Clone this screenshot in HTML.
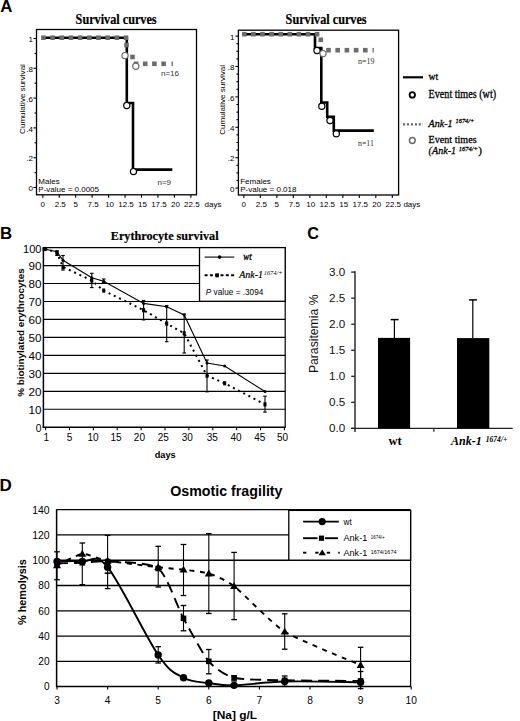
<!DOCTYPE html>
<html><head><meta charset="utf-8"><style>
html,body{margin:0;padding:0;background:#fff;overflow:hidden;}
svg{display:block;}
</style></head><body>
<svg width="520" height="721" viewBox="0 0 520 721">
<rect width="520" height="721" fill="#fff"/>
<text x="0.3" y="11.8" font-size="16.8" font-family='"Liberation Sans", sans-serif' text-anchor="start" font-weight="bold">A</text>
<text x="0" y="239.4" font-size="16.8" font-family='"Liberation Sans", sans-serif' text-anchor="start" font-weight="bold">B</text>
<text x="307.2" y="239.2" font-size="16.2" font-family='"Liberation Sans", sans-serif' text-anchor="start" font-weight="bold">C</text>
<text x="-0.6" y="491.2" font-size="17" font-family='"Liberation Sans", sans-serif' text-anchor="start" font-weight="bold">D</text>
<rect x="36.5" y="29.5" width="160.0" height="165.3" fill="none" stroke="#000" stroke-width="1.3"/>
<line x1="33.5" y1="187.5" x2="36.5" y2="187.5" stroke="#000" stroke-width="1.1"/>
<line x1="34.5" y1="172.6" x2="36.5" y2="172.6" stroke="#000" stroke-width="1.1"/>
<line x1="33.5" y1="157.7" x2="36.5" y2="157.7" stroke="#000" stroke-width="1.1"/>
<line x1="34.5" y1="142.79999999999998" x2="36.5" y2="142.79999999999998" stroke="#000" stroke-width="1.1"/>
<line x1="33.5" y1="127.9" x2="36.5" y2="127.9" stroke="#000" stroke-width="1.1"/>
<line x1="34.5" y1="113.0" x2="36.5" y2="113.0" stroke="#000" stroke-width="1.1"/>
<line x1="33.5" y1="98.09999999999998" x2="36.5" y2="98.09999999999998" stroke="#000" stroke-width="1.1"/>
<line x1="34.5" y1="83.19999999999999" x2="36.5" y2="83.19999999999999" stroke="#000" stroke-width="1.1"/>
<line x1="33.5" y1="68.3" x2="36.5" y2="68.3" stroke="#000" stroke-width="1.1"/>
<line x1="34.5" y1="53.400000000000006" x2="36.5" y2="53.400000000000006" stroke="#000" stroke-width="1.1"/>
<line x1="33.5" y1="38.5" x2="36.5" y2="38.5" stroke="#000" stroke-width="1.1"/>
<text x="33.0" y="42.1" font-size="8" font-family='"Liberation Sans", sans-serif' text-anchor="end">1</text>
<text x="33.0" y="71.89999999999999" font-size="8" font-family='"Liberation Sans", sans-serif' text-anchor="end">.8</text>
<text x="33.0" y="101.7" font-size="8" font-family='"Liberation Sans", sans-serif' text-anchor="end">.6</text>
<text x="33.0" y="131.5" font-size="8" font-family='"Liberation Sans", sans-serif' text-anchor="end">.4</text>
<text x="33.0" y="161.29999999999998" font-size="8" font-family='"Liberation Sans", sans-serif' text-anchor="end">.2</text>
<text x="33.0" y="191.1" font-size="8" font-family='"Liberation Sans", sans-serif' text-anchor="end">0</text>
<line x1="42.8" y1="194.8" x2="42.8" y2="197.8" stroke="#000" stroke-width="1.1"/>
<text x="42.8" y="206.5" font-size="8" font-family='"Liberation Sans", sans-serif' text-anchor="middle">0</text>
<line x1="59.25" y1="194.8" x2="59.25" y2="197.8" stroke="#000" stroke-width="1.1"/>
<text x="60.25" y="206.5" font-size="8" font-family='"Liberation Sans", sans-serif' text-anchor="middle">2.5</text>
<line x1="75.69999999999999" y1="194.8" x2="75.69999999999999" y2="197.8" stroke="#000" stroke-width="1.1"/>
<text x="75.69999999999999" y="206.5" font-size="8" font-family='"Liberation Sans", sans-serif' text-anchor="middle">5</text>
<line x1="92.15" y1="194.8" x2="92.15" y2="197.8" stroke="#000" stroke-width="1.1"/>
<text x="93.15" y="206.5" font-size="8" font-family='"Liberation Sans", sans-serif' text-anchor="middle">7.5</text>
<line x1="108.6" y1="194.8" x2="108.6" y2="197.8" stroke="#000" stroke-width="1.1"/>
<text x="109.6" y="206.5" font-size="8" font-family='"Liberation Sans", sans-serif' text-anchor="middle">10</text>
<line x1="125.05" y1="194.8" x2="125.05" y2="197.8" stroke="#000" stroke-width="1.1"/>
<text x="126.05" y="206.5" font-size="8" font-family='"Liberation Sans", sans-serif' text-anchor="middle">12.5</text>
<line x1="141.5" y1="194.8" x2="141.5" y2="197.8" stroke="#000" stroke-width="1.1"/>
<text x="142.5" y="206.5" font-size="8" font-family='"Liberation Sans", sans-serif' text-anchor="middle">15</text>
<line x1="157.95" y1="194.8" x2="157.95" y2="197.8" stroke="#000" stroke-width="1.1"/>
<text x="158.95" y="206.5" font-size="8" font-family='"Liberation Sans", sans-serif' text-anchor="middle">17.5</text>
<line x1="174.39999999999998" y1="194.8" x2="174.39999999999998" y2="197.8" stroke="#000" stroke-width="1.1"/>
<text x="175.39999999999998" y="206.5" font-size="8" font-family='"Liberation Sans", sans-serif' text-anchor="middle">20</text>
<line x1="190.85000000000002" y1="194.8" x2="190.85000000000002" y2="197.8" stroke="#000" stroke-width="1.1"/>
<text x="191.85000000000002" y="206.5" font-size="8" font-family='"Liberation Sans", sans-serif' text-anchor="middle">22.5</text>
<text x="204.5" y="206.5" font-size="8" font-family='"Liberation Sans", sans-serif' text-anchor="start">days</text>
<text x="25.0" y="99" font-size="8" font-family='"Liberation Sans", sans-serif' text-anchor="middle" textLength="69.8" lengthAdjust="spacingAndGlyphs" transform="rotate(-90 25.0 99)">Cumulative survival</text>
<text x="75.6" y="24.2" font-size="13.8" font-family='"Liberation Serif", serif' text-anchor="start" stroke="#000" stroke-width="0.2" font-weight="bold" textLength="81" lengthAdjust="spacingAndGlyphs">Survival curves</text>
<text x="38.3" y="183.6" font-size="8" font-family='"Liberation Sans", sans-serif' text-anchor="start">Males</text>
<text x="38.3" y="192.3" font-size="8" font-family='"Liberation Sans", sans-serif' text-anchor="start">P-value = 0.0005</text>
<rect x="238.4" y="30.2" width="160.20000000000002" height="164.8" fill="none" stroke="#000" stroke-width="1.3"/>
<line x1="235.4" y1="188.1" x2="238.4" y2="188.1" stroke="#000" stroke-width="1.1"/>
<line x1="236.4" y1="180.5" x2="238.4" y2="180.5" stroke="#000" stroke-width="1.1"/>
<line x1="236.4" y1="172.9" x2="238.4" y2="172.9" stroke="#000" stroke-width="1.1"/>
<line x1="236.4" y1="165.29999999999998" x2="238.4" y2="165.29999999999998" stroke="#000" stroke-width="1.1"/>
<line x1="235.4" y1="157.7" x2="238.4" y2="157.7" stroke="#000" stroke-width="1.1"/>
<line x1="236.4" y1="150.1" x2="238.4" y2="150.1" stroke="#000" stroke-width="1.1"/>
<line x1="236.4" y1="142.5" x2="238.4" y2="142.5" stroke="#000" stroke-width="1.1"/>
<line x1="236.4" y1="134.89999999999998" x2="238.4" y2="134.89999999999998" stroke="#000" stroke-width="1.1"/>
<line x1="235.4" y1="127.29999999999998" x2="238.4" y2="127.29999999999998" stroke="#000" stroke-width="1.1"/>
<line x1="236.4" y1="119.69999999999999" x2="238.4" y2="119.69999999999999" stroke="#000" stroke-width="1.1"/>
<line x1="236.4" y1="112.1" x2="238.4" y2="112.1" stroke="#000" stroke-width="1.1"/>
<line x1="236.4" y1="104.49999999999999" x2="238.4" y2="104.49999999999999" stroke="#000" stroke-width="1.1"/>
<line x1="235.4" y1="96.89999999999998" x2="238.4" y2="96.89999999999998" stroke="#000" stroke-width="1.1"/>
<line x1="236.4" y1="89.3" x2="238.4" y2="89.3" stroke="#000" stroke-width="1.1"/>
<line x1="236.4" y1="81.69999999999999" x2="238.4" y2="81.69999999999999" stroke="#000" stroke-width="1.1"/>
<line x1="236.4" y1="74.1" x2="238.4" y2="74.1" stroke="#000" stroke-width="1.1"/>
<line x1="235.4" y1="66.49999999999999" x2="238.4" y2="66.49999999999999" stroke="#000" stroke-width="1.1"/>
<line x1="236.4" y1="58.89999999999998" x2="238.4" y2="58.89999999999998" stroke="#000" stroke-width="1.1"/>
<line x1="236.4" y1="51.29999999999998" x2="238.4" y2="51.29999999999998" stroke="#000" stroke-width="1.1"/>
<line x1="236.4" y1="43.69999999999999" x2="238.4" y2="43.69999999999999" stroke="#000" stroke-width="1.1"/>
<line x1="235.4" y1="36.099999999999994" x2="238.4" y2="36.099999999999994" stroke="#000" stroke-width="1.1"/>
<text x="234.4" y="39.699999999999996" font-size="8" font-family='"Liberation Sans", sans-serif' text-anchor="end">1</text>
<text x="234.4" y="70.09999999999998" font-size="8" font-family='"Liberation Sans", sans-serif' text-anchor="end">.8</text>
<text x="234.4" y="100.49999999999999" font-size="8" font-family='"Liberation Sans", sans-serif' text-anchor="end">.6</text>
<text x="234.4" y="130.89999999999998" font-size="8" font-family='"Liberation Sans", sans-serif' text-anchor="end">.4</text>
<text x="234.4" y="161.29999999999998" font-size="8" font-family='"Liberation Sans", sans-serif' text-anchor="end">.2</text>
<text x="234.4" y="191.7" font-size="8" font-family='"Liberation Sans", sans-serif' text-anchor="end">0</text>
<line x1="243.8" y1="195.0" x2="243.8" y2="198.0" stroke="#000" stroke-width="1.1"/>
<text x="243.8" y="206.5" font-size="8" font-family='"Liberation Sans", sans-serif' text-anchor="middle">0</text>
<line x1="260.3" y1="195.0" x2="260.3" y2="198.0" stroke="#000" stroke-width="1.1"/>
<text x="261.3" y="206.5" font-size="8" font-family='"Liberation Sans", sans-serif' text-anchor="middle">2.5</text>
<line x1="276.8" y1="195.0" x2="276.8" y2="198.0" stroke="#000" stroke-width="1.1"/>
<text x="276.8" y="206.5" font-size="8" font-family='"Liberation Sans", sans-serif' text-anchor="middle">5</text>
<line x1="293.3" y1="195.0" x2="293.3" y2="198.0" stroke="#000" stroke-width="1.1"/>
<text x="294.3" y="206.5" font-size="8" font-family='"Liberation Sans", sans-serif' text-anchor="middle">7.5</text>
<line x1="309.8" y1="195.0" x2="309.8" y2="198.0" stroke="#000" stroke-width="1.1"/>
<text x="310.8" y="206.5" font-size="8" font-family='"Liberation Sans", sans-serif' text-anchor="middle">10</text>
<line x1="326.3" y1="195.0" x2="326.3" y2="198.0" stroke="#000" stroke-width="1.1"/>
<text x="327.3" y="206.5" font-size="8" font-family='"Liberation Sans", sans-serif' text-anchor="middle">12.5</text>
<line x1="342.8" y1="195.0" x2="342.8" y2="198.0" stroke="#000" stroke-width="1.1"/>
<text x="343.8" y="206.5" font-size="8" font-family='"Liberation Sans", sans-serif' text-anchor="middle">15</text>
<line x1="359.3" y1="195.0" x2="359.3" y2="198.0" stroke="#000" stroke-width="1.1"/>
<text x="360.3" y="206.5" font-size="8" font-family='"Liberation Sans", sans-serif' text-anchor="middle">17.5</text>
<line x1="375.8" y1="195.0" x2="375.8" y2="198.0" stroke="#000" stroke-width="1.1"/>
<text x="376.8" y="206.5" font-size="8" font-family='"Liberation Sans", sans-serif' text-anchor="middle">20</text>
<line x1="392.3" y1="195.0" x2="392.3" y2="198.0" stroke="#000" stroke-width="1.1"/>
<text x="393.3" y="206.5" font-size="8" font-family='"Liberation Sans", sans-serif' text-anchor="middle">22.5</text>
<text x="403.4" y="206.5" font-size="8" font-family='"Liberation Sans", sans-serif' text-anchor="start">days</text>
<text x="224.9" y="99.9" font-size="8" font-family='"Liberation Sans", sans-serif' text-anchor="middle" textLength="69.8" lengthAdjust="spacingAndGlyphs" transform="rotate(-90 224.9 99.9)">Cumulative survival</text>
<text x="285.6" y="24.2" font-size="13.8" font-family='"Liberation Serif", serif' text-anchor="start" stroke="#000" stroke-width="0.2" font-weight="bold" textLength="81" lengthAdjust="spacingAndGlyphs">Survival curves</text>
<text x="240.20000000000002" y="183.6" font-size="8" font-family='"Liberation Sans", sans-serif' text-anchor="start">Females</text>
<text x="240.20000000000002" y="192.3" font-size="8" font-family='"Liberation Sans", sans-serif' text-anchor="start">P-value = 0.018</text>
<path d="M42 37.7 H126.8 V103 H133 V169.6 H172.3" stroke="#000" stroke-width="2.6" fill="none"/>
<rect x="41.10" y="35.40" width="4.6" height="4.6" fill="#6c6c6c"/>
<rect x="50.28" y="35.40" width="4.6" height="4.6" fill="#6c6c6c"/>
<rect x="59.46" y="35.40" width="4.6" height="4.6" fill="#6c6c6c"/>
<rect x="68.64" y="35.40" width="4.6" height="4.6" fill="#6c6c6c"/>
<rect x="77.82" y="35.40" width="4.6" height="4.6" fill="#6c6c6c"/>
<rect x="87.00" y="35.40" width="4.6" height="4.6" fill="#6c6c6c"/>
<rect x="96.18" y="35.40" width="4.6" height="4.6" fill="#6c6c6c"/>
<rect x="105.36" y="35.40" width="4.6" height="4.6" fill="#6c6c6c"/>
<rect x="114.54" y="35.40" width="4.6" height="4.6" fill="#6c6c6c"/>
<rect x="123.72" y="35.40" width="4.6" height="4.6" fill="#6c6c6c"/>
<rect x="124.2" y="42.7" width="4.6" height="4.6" fill="#6c6c6c"/>
<rect x="130.2" y="54.7" width="4.6" height="4.6" fill="#6c6c6c"/>
<rect x="133.70" y="61.50" width="4.6" height="4.6" fill="#6c6c6c"/>
<rect x="142.90" y="61.50" width="4.6" height="4.6" fill="#6c6c6c"/>
<rect x="152.10" y="61.50" width="4.6" height="4.6" fill="#6c6c6c"/>
<rect x="161.30" y="61.50" width="4.6" height="4.6" fill="#6c6c6c"/>
<rect x="171.5" y="61.5" width="1.3" height="4.6" fill="#6c6c6c"/>
<circle cx="126.8" cy="105.5" r="3.1" fill="#fff" stroke="#000" stroke-width="1.2"/>
<circle cx="133.5" cy="171.6" r="3.1" fill="#fff" stroke="#000" stroke-width="1.2"/>
<circle cx="125" cy="55.6" r="3.1" fill="#fff" stroke="#6c6c6c" stroke-width="1.2"/>
<circle cx="135.8" cy="66.3" r="3.1" fill="#fff" stroke="#6c6c6c" stroke-width="1.2"/>
<text x="161" y="76" font-size="8" font-family='"Liberation Sans", sans-serif' text-anchor="start" fill="#333">n=16</text>
<text x="157.5" y="185.2" font-size="8" font-family='"Liberation Sans", sans-serif' text-anchor="start" fill="#333">n=9</text>
<path d="M244 34.2 H315 V48 H321.3 V102.5 H327.2 V116.8 H333.8 V130.6 H373.8" stroke="#000" stroke-width="2.6" fill="none"/>
<rect x="242.00" y="31.90" width="4.6" height="4.6" fill="#6c6c6c"/>
<rect x="251.10" y="31.90" width="4.6" height="4.6" fill="#6c6c6c"/>
<rect x="260.20" y="31.90" width="4.6" height="4.6" fill="#6c6c6c"/>
<rect x="269.30" y="31.90" width="4.6" height="4.6" fill="#6c6c6c"/>
<rect x="278.40" y="31.90" width="4.6" height="4.6" fill="#6c6c6c"/>
<rect x="287.50" y="31.90" width="4.6" height="4.6" fill="#6c6c6c"/>
<rect x="296.60" y="31.90" width="4.6" height="4.6" fill="#6c6c6c"/>
<rect x="305.70" y="31.90" width="4.6" height="4.6" fill="#6c6c6c"/>
<rect x="314.80" y="31.90" width="4.6" height="4.6" fill="#6c6c6c"/>
<rect x="318.5" y="37.5" width="4.6" height="4.6" fill="#6c6c6c"/>
<rect x="326.20" y="47.90" width="4.6" height="4.6" fill="#6c6c6c"/>
<rect x="335.40" y="47.90" width="4.6" height="4.6" fill="#6c6c6c"/>
<rect x="344.60" y="47.90" width="4.6" height="4.6" fill="#6c6c6c"/>
<rect x="353.80" y="47.90" width="4.6" height="4.6" fill="#6c6c6c"/>
<rect x="363.00" y="47.90" width="4.6" height="4.6" fill="#6c6c6c"/>
<rect x="372.5" y="47.9" width="1.3" height="4.6" fill="#6c6c6c"/>
<circle cx="317" cy="50.5" r="3.1" fill="#fff" stroke="#000" stroke-width="1.2"/>
<circle cx="321.8" cy="106.3" r="3.1" fill="#fff" stroke="#000" stroke-width="1.2"/>
<circle cx="330" cy="120.5" r="3.1" fill="#fff" stroke="#000" stroke-width="1.2"/>
<circle cx="336.3" cy="133.8" r="3.1" fill="#fff" stroke="#000" stroke-width="1.2"/>
<circle cx="323" cy="53.6" r="3.1" fill="#fff" stroke="#6c6c6c" stroke-width="1.2"/>
<text x="358" y="64.4" font-size="8.6" font-family='"Liberation Serif", serif' text-anchor="start" fill="#333" textLength="16.5" lengthAdjust="spacingAndGlyphs">n=19</text>
<text x="358" y="145.6" font-size="8.6" font-family='"Liberation Serif", serif' text-anchor="start" fill="#333" textLength="15.8" lengthAdjust="spacingAndGlyphs">n=11</text>
<line x1="403" y1="77.3" x2="423" y2="77.3" stroke="#000" stroke-width="2.2"/>
<text x="428.6" y="80.4" font-size="11" font-family='"Liberation Serif", serif' text-anchor="start" stroke="#000" stroke-width="0.3" textLength="9.7" lengthAdjust="spacingAndGlyphs">wt</text>
<circle cx="412.3" cy="94.9" r="2.7" fill="#fff" stroke="#000" stroke-width="1.8"/>
<text x="428.6" y="98.4" font-size="11.6" font-family='"Liberation Serif", serif' text-anchor="start" stroke="#000" stroke-width="0.3" textLength="67.5" lengthAdjust="spacingAndGlyphs">Event times (wt)</text>
<line x1="403" y1="124.4" x2="423" y2="124.4" stroke="#6a6a6a" stroke-width="2.2" stroke-dasharray="2.1 1.85"/>
<text x="428.6" y="126.8" font-size="11" font-family='"Liberation Serif", serif' text-anchor="start" stroke="#000" stroke-width="0.3" font-style="italic" textLength="24" lengthAdjust="spacingAndGlyphs">Ank-1</text>
<text x="455.6" y="122.5" font-size="7" font-family='"Liberation Serif", serif' text-anchor="start" stroke="#000" stroke-width="0.3" font-style="italic" textLength="18.7" lengthAdjust="spacingAndGlyphs">1674/+</text>
<circle cx="412.3" cy="140.5" r="2.9" fill="#fff" stroke="#6c6c6c" stroke-width="1.5"/>
<text x="428.6" y="143.0" font-size="11.4" font-family='"Liberation Serif", serif' text-anchor="start" stroke="#000" stroke-width="0.3" textLength="48" lengthAdjust="spacingAndGlyphs">Event times</text>
<text x="428.6" y="154.3" font-size="11.2" font-family='"Liberation Serif", serif' text-anchor="start" stroke="#000" stroke-width="0.3" font-style="italic" textLength="27.5" lengthAdjust="spacingAndGlyphs">(Ank-1</text>
<text x="458.7" y="150.5" font-size="7" font-family='"Liberation Serif", serif' text-anchor="start" stroke="#000" stroke-width="0.3" font-style="italic" textLength="19.2" lengthAdjust="spacingAndGlyphs">1674/+</text>
<text x="478.3" y="154.4" font-size="11" font-family='"Liberation Serif", serif' text-anchor="start" stroke="#000" stroke-width="0.3">)</text>
<text x="110.8" y="239.5" font-size="12.6" font-family='"Liberation Serif", serif' text-anchor="start" stroke="#000" stroke-width="0.2" font-weight="bold" textLength="107.8" lengthAdjust="spacingAndGlyphs">Erythrocyte survival</text>
<line x1="43.4" y1="409.24" x2="285.2" y2="409.24" stroke="#000" stroke-width="1.2"/>
<line x1="43.4" y1="391.28" x2="285.2" y2="391.28" stroke="#000" stroke-width="1.2"/>
<line x1="43.4" y1="373.32" x2="285.2" y2="373.32" stroke="#000" stroke-width="1.2"/>
<line x1="43.4" y1="355.36" x2="285.2" y2="355.36" stroke="#000" stroke-width="1.2"/>
<line x1="43.4" y1="337.4" x2="285.2" y2="337.4" stroke="#000" stroke-width="1.2"/>
<line x1="43.4" y1="319.44" x2="285.2" y2="319.44" stroke="#000" stroke-width="1.2"/>
<line x1="43.4" y1="301.48" x2="285.2" y2="301.48" stroke="#000" stroke-width="1.2"/>
<line x1="43.4" y1="283.52" x2="285.2" y2="283.52" stroke="#000" stroke-width="1.2"/>
<line x1="43.4" y1="265.56" x2="285.2" y2="265.56" stroke="#000" stroke-width="1.2"/>
<line x1="43.4" y1="247.6" x2="285.2" y2="247.6" stroke="#000" stroke-width="1.2"/>
<line x1="285.2" y1="247.6" x2="285.2" y2="427.2" stroke="#000" stroke-width="1.2"/>
<line x1="43.4" y1="247.0" x2="43.4" y2="427.9" stroke="#000" stroke-width="1.5"/>
<line x1="42.699999999999996" y1="427.2" x2="285.8" y2="427.2" stroke="#000" stroke-width="1.5"/>
<text x="41.4" y="432.09999999999997" font-size="10.2" font-family='"Liberation Sans", sans-serif' text-anchor="end">0</text>
<text x="41.4" y="414.14" font-size="10.2" font-family='"Liberation Sans", sans-serif' text-anchor="end" textLength="13.0" lengthAdjust="spacingAndGlyphs">10</text>
<text x="41.4" y="396.17999999999995" font-size="10.2" font-family='"Liberation Sans", sans-serif' text-anchor="end" textLength="13.0" lengthAdjust="spacingAndGlyphs">20</text>
<text x="41.4" y="378.21999999999997" font-size="10.2" font-family='"Liberation Sans", sans-serif' text-anchor="end" textLength="13.0" lengthAdjust="spacingAndGlyphs">30</text>
<text x="41.4" y="360.26" font-size="10.2" font-family='"Liberation Sans", sans-serif' text-anchor="end" textLength="13.0" lengthAdjust="spacingAndGlyphs">40</text>
<text x="41.4" y="342.29999999999995" font-size="10.2" font-family='"Liberation Sans", sans-serif' text-anchor="end" textLength="13.0" lengthAdjust="spacingAndGlyphs">50</text>
<text x="41.4" y="324.34" font-size="10.2" font-family='"Liberation Sans", sans-serif' text-anchor="end" textLength="13.0" lengthAdjust="spacingAndGlyphs">60</text>
<text x="41.4" y="306.38" font-size="10.2" font-family='"Liberation Sans", sans-serif' text-anchor="end" textLength="13.0" lengthAdjust="spacingAndGlyphs">70</text>
<text x="41.4" y="288.41999999999996" font-size="10.2" font-family='"Liberation Sans", sans-serif' text-anchor="end" textLength="13.0" lengthAdjust="spacingAndGlyphs">80</text>
<text x="41.4" y="270.46" font-size="10.2" font-family='"Liberation Sans", sans-serif' text-anchor="end" textLength="13.0" lengthAdjust="spacingAndGlyphs">90</text>
<text x="41.4" y="252.5" font-size="10.2" font-family='"Liberation Sans", sans-serif' text-anchor="end" textLength="18.4" lengthAdjust="spacingAndGlyphs">100</text>
<line x1="45.6" y1="427.2" x2="45.6" y2="430.2" stroke="#000" stroke-width="1.1"/>
<text x="46.2" y="441.3" font-size="10" font-family='"Liberation Sans", sans-serif' text-anchor="middle">1</text>
<line x1="69.48" y1="427.2" x2="69.48" y2="430.2" stroke="#000" stroke-width="1.1"/>
<text x="69.6" y="441.3" font-size="10" font-family='"Liberation Sans", sans-serif' text-anchor="middle">5</text>
<line x1="93.36" y1="427.2" x2="93.36" y2="430.2" stroke="#000" stroke-width="1.1"/>
<text x="93" y="441.3" font-size="10" font-family='"Liberation Sans", sans-serif' text-anchor="middle">10</text>
<line x1="117.24000000000001" y1="427.2" x2="117.24000000000001" y2="430.2" stroke="#000" stroke-width="1.1"/>
<text x="116" y="441.3" font-size="10" font-family='"Liberation Sans", sans-serif' text-anchor="middle">15</text>
<line x1="141.12" y1="427.2" x2="141.12" y2="430.2" stroke="#000" stroke-width="1.1"/>
<text x="139.4" y="441.3" font-size="10" font-family='"Liberation Sans", sans-serif' text-anchor="middle">20</text>
<line x1="165.0" y1="427.2" x2="165.0" y2="430.2" stroke="#000" stroke-width="1.1"/>
<text x="163.3" y="441.3" font-size="10" font-family='"Liberation Sans", sans-serif' text-anchor="middle">25</text>
<line x1="188.88" y1="427.2" x2="188.88" y2="430.2" stroke="#000" stroke-width="1.1"/>
<text x="187.2" y="441.3" font-size="10" font-family='"Liberation Sans", sans-serif' text-anchor="middle">30</text>
<line x1="212.76" y1="427.2" x2="212.76" y2="430.2" stroke="#000" stroke-width="1.1"/>
<text x="212.3" y="441.3" font-size="10" font-family='"Liberation Sans", sans-serif' text-anchor="middle">35</text>
<line x1="236.64" y1="427.2" x2="236.64" y2="430.2" stroke="#000" stroke-width="1.1"/>
<text x="236" y="441.3" font-size="10" font-family='"Liberation Sans", sans-serif' text-anchor="middle">40</text>
<line x1="260.52" y1="427.2" x2="260.52" y2="430.2" stroke="#000" stroke-width="1.1"/>
<text x="259.8" y="441.3" font-size="10" font-family='"Liberation Sans", sans-serif' text-anchor="middle">45</text>
<line x1="284.4" y1="427.2" x2="284.4" y2="430.2" stroke="#000" stroke-width="1.1"/>
<text x="282.5" y="441.3" font-size="10" font-family='"Liberation Sans", sans-serif' text-anchor="middle">50</text>
<text x="165.2" y="457.6" font-size="8.6" font-family='"Liberation Sans", sans-serif' text-anchor="middle" font-weight="bold" textLength="21" lengthAdjust="spacingAndGlyphs">days</text>
<text x="24.2" y="332.5" font-size="9.8" font-family='"Liberation Sans", sans-serif' text-anchor="middle" font-weight="bold" textLength="128.5" lengthAdjust="spacingAndGlyphs" transform="rotate(-90 24.2 332.5)">% biotinylated erythrocytes</text>
<line x1="57" y1="250.8" x2="57" y2="255.5" stroke="#000" stroke-width="1.1"/>
<line x1="55.2" y1="250.8" x2="58.8" y2="250.8" stroke="#000" stroke-width="1.1"/>
<line x1="55.2" y1="255.5" x2="58.8" y2="255.5" stroke="#000" stroke-width="1.1"/>
<line x1="63" y1="255.5" x2="63" y2="270" stroke="#000" stroke-width="1.1"/>
<line x1="61.2" y1="255.5" x2="64.8" y2="255.5" stroke="#000" stroke-width="1.1"/>
<line x1="61.2" y1="270" x2="64.8" y2="270" stroke="#000" stroke-width="1.1"/>
<line x1="91.8" y1="273.3" x2="91.8" y2="287.6" stroke="#000" stroke-width="1.1"/>
<line x1="90.0" y1="273.3" x2="93.6" y2="273.3" stroke="#000" stroke-width="1.1"/>
<line x1="90.0" y1="287.6" x2="93.6" y2="287.6" stroke="#000" stroke-width="1.1"/>
<line x1="103.7" y1="279" x2="103.7" y2="282.6" stroke="#000" stroke-width="1.1"/>
<line x1="101.9" y1="279" x2="105.5" y2="279" stroke="#000" stroke-width="1.1"/>
<line x1="101.9" y1="282.6" x2="105.5" y2="282.6" stroke="#000" stroke-width="1.1"/>
<line x1="143.6" y1="300.5" x2="143.6" y2="319.9" stroke="#000" stroke-width="1.1"/>
<line x1="141.79999999999998" y1="300.5" x2="145.4" y2="300.5" stroke="#000" stroke-width="1.1"/>
<line x1="141.79999999999998" y1="319.9" x2="145.4" y2="319.9" stroke="#000" stroke-width="1.1"/>
<line x1="166.7" y1="305.5" x2="166.7" y2="341.7" stroke="#000" stroke-width="1.1"/>
<line x1="164.89999999999998" y1="305.5" x2="168.5" y2="305.5" stroke="#000" stroke-width="1.1"/>
<line x1="164.89999999999998" y1="341.7" x2="168.5" y2="341.7" stroke="#000" stroke-width="1.1"/>
<line x1="184.2" y1="314" x2="184.2" y2="353" stroke="#000" stroke-width="1.1"/>
<line x1="182.39999999999998" y1="314" x2="186.0" y2="314" stroke="#000" stroke-width="1.1"/>
<line x1="182.39999999999998" y1="353" x2="186.0" y2="353" stroke="#000" stroke-width="1.1"/>
<line x1="207" y1="360" x2="207" y2="391.8" stroke="#000" stroke-width="1.1"/>
<line x1="205.2" y1="360" x2="208.8" y2="360" stroke="#000" stroke-width="1.1"/>
<line x1="205.2" y1="391.8" x2="208.8" y2="391.8" stroke="#000" stroke-width="1.1"/>
<line x1="265" y1="396.2" x2="265" y2="412.1" stroke="#000" stroke-width="1.1"/>
<line x1="263.2" y1="396.2" x2="266.8" y2="396.2" stroke="#000" stroke-width="1.1"/>
<line x1="263.2" y1="412.1" x2="266.8" y2="412.1" stroke="#000" stroke-width="1.1"/>
<path d="M44.6 249 L51.5 250.8 L57 253 L63 267 L91.8 280.5 L103.7 290.6 L143.6 310.2 L166.7 323.6 L184.2 333.3 L207 375.6 L224.7 383.3 L265 404.4" stroke="#000" stroke-width="2.0" fill="none" stroke-dasharray="2 3.8"/>
<path d="M44.6 249 L57 251.8 L63 260.3 L91.8 277.8 L103.7 281.2 L143.6 303.4 L166.7 306.8 L184.2 314.9 L207 363 L224.7 366 L265 391.5" stroke="#000" stroke-width="1.1" fill="none"/>
<circle cx="44.6" cy="249" r="1.5" fill="#000"/>
<circle cx="57" cy="251.8" r="1.5" fill="#000"/>
<circle cx="63" cy="260.3" r="1.5" fill="#000"/>
<circle cx="91.8" cy="277.8" r="1.5" fill="#000"/>
<circle cx="103.7" cy="281.2" r="1.5" fill="#000"/>
<circle cx="143.6" cy="303.4" r="1.5" fill="#000"/>
<circle cx="166.7" cy="306.8" r="1.5" fill="#000"/>
<circle cx="184.2" cy="314.9" r="1.5" fill="#000"/>
<circle cx="207" cy="363" r="1.5" fill="#000"/>
<circle cx="224.7" cy="366" r="1.5" fill="#000"/>
<circle cx="265" cy="391.5" r="1.5" fill="#000"/>
<rect x="43.1" y="246.9" width="3" height="4.2" fill="#000"/>
<rect x="55.5" y="250.9" width="3" height="4.2" fill="#000"/>
<rect x="61.5" y="264.9" width="3" height="4.2" fill="#000"/>
<rect x="90.3" y="278.4" width="3" height="4.2" fill="#000"/>
<rect x="102.2" y="288.5" width="3" height="4.2" fill="#000"/>
<rect x="142.1" y="308.09999999999997" width="3" height="4.2" fill="#000"/>
<rect x="165.2" y="321.5" width="3" height="4.2" fill="#000"/>
<rect x="182.7" y="331.2" width="3" height="4.2" fill="#000"/>
<rect x="205.5" y="373.5" width="3" height="4.2" fill="#000"/>
<rect x="223.2" y="381.2" width="3" height="4.2" fill="#000"/>
<rect x="263.5" y="402.29999999999995" width="3" height="4.2" fill="#000"/>
<rect x="42.6" y="247.4" width="4.6" height="3.2" fill="#000"/>
<rect x="199.5" y="247.6" width="85.7" height="53.7" fill="#fff" stroke="#000" stroke-width="1.3"/>
<line x1="204.6" y1="257.1" x2="234.3" y2="257.1" stroke="#000" stroke-width="1.1"/>
<circle cx="219.6" cy="257.1" r="1.8" fill="#000"/>
<text x="243.3" y="259.7" font-size="10" font-family='"Liberation Serif", serif' text-anchor="start" stroke="#000" stroke-width="0.35" font-style="italic" textLength="8.5" lengthAdjust="spacingAndGlyphs">wt</text>
<line x1="204.6" y1="275.3" x2="234.3" y2="275.3" stroke="#000" stroke-width="2" stroke-dasharray="3 2.3"/>
<rect x="215.3" y="273.3" width="3.6" height="4" fill="#000"/>
<text x="239.2" y="278" font-size="10" font-family='"Liberation Serif", serif' text-anchor="start" stroke="#000" stroke-width="0.2" font-style="italic" textLength="23.8" lengthAdjust="spacingAndGlyphs">Ank-1</text>
<text x="263.7" y="275.2" font-size="6.6" font-family='"Liberation Serif", serif' text-anchor="start" font-style="italic" textLength="19" lengthAdjust="spacingAndGlyphs">1674/+</text>
<text x="205.8" y="294.8" font-size="8.3" font-family='"Liberation Sans", sans-serif' text-anchor="start" textLength="57.6" lengthAdjust="spacingAndGlyphs"><tspan font-style="italic">P</tspan> value = .3094</text>
<line x1="355" y1="271.2" x2="355" y2="432" stroke="#222" stroke-width="1.4"/>
<line x1="351.2" y1="428.4" x2="512.7" y2="428.4" stroke="#222" stroke-width="1.4"/>
<line x1="351.2" y1="428.4" x2="355" y2="428.4" stroke="#222" stroke-width="1.3"/>
<text x="345.3" y="432.29999999999995" font-size="11" font-family='"Liberation Sans", sans-serif' text-anchor="end" fill="#111" textLength="16.2" lengthAdjust="spacingAndGlyphs">0.0</text>
<line x1="351.2" y1="402.34999999999997" x2="355" y2="402.34999999999997" stroke="#222" stroke-width="1.3"/>
<text x="345.3" y="406.24999999999994" font-size="11" font-family='"Liberation Sans", sans-serif' text-anchor="end" fill="#111" textLength="16.2" lengthAdjust="spacingAndGlyphs">0.5</text>
<line x1="351.2" y1="376.29999999999995" x2="355" y2="376.29999999999995" stroke="#222" stroke-width="1.3"/>
<text x="345.3" y="380.19999999999993" font-size="11" font-family='"Liberation Sans", sans-serif' text-anchor="end" fill="#111" textLength="16.2" lengthAdjust="spacingAndGlyphs">1.0</text>
<line x1="351.2" y1="350.25" x2="355" y2="350.25" stroke="#222" stroke-width="1.3"/>
<text x="345.3" y="354.15" font-size="11" font-family='"Liberation Sans", sans-serif' text-anchor="end" fill="#111" textLength="16.2" lengthAdjust="spacingAndGlyphs">1.5</text>
<line x1="351.2" y1="324.2" x2="355" y2="324.2" stroke="#222" stroke-width="1.3"/>
<text x="345.3" y="328.09999999999997" font-size="11" font-family='"Liberation Sans", sans-serif' text-anchor="end" fill="#111" textLength="16.2" lengthAdjust="spacingAndGlyphs">2.0</text>
<line x1="351.2" y1="298.15" x2="355" y2="298.15" stroke="#222" stroke-width="1.3"/>
<text x="345.3" y="302.04999999999995" font-size="11" font-family='"Liberation Sans", sans-serif' text-anchor="end" fill="#111" textLength="16.2" lengthAdjust="spacingAndGlyphs">2.5</text>
<line x1="351.2" y1="272.09999999999997" x2="355" y2="272.09999999999997" stroke="#222" stroke-width="1.3"/>
<text x="345.3" y="275.99999999999994" font-size="11" font-family='"Liberation Sans", sans-serif' text-anchor="end" fill="#111" textLength="16.2" lengthAdjust="spacingAndGlyphs">3.0</text>
<line x1="433.9" y1="428.4" x2="433.9" y2="431.8" stroke="#222" stroke-width="1.2"/>
<rect x="378.0" y="337.9" width="32.1" height="90.5" fill="#000"/>
<rect x="457.0" y="338.1" width="32.3" height="90.3" fill="#000"/>
<line x1="394.4" y1="337.9" x2="394.4" y2="319.6" stroke="#000" stroke-width="1.2"/>
<line x1="390.6" y1="319.6" x2="398.6" y2="319.6" stroke="#000" stroke-width="1.5"/>
<line x1="472.8" y1="338.1" x2="472.8" y2="299.9" stroke="#000" stroke-width="1.2"/>
<line x1="469.1" y1="299.9" x2="476.9" y2="299.9" stroke="#000" stroke-width="1.5"/>
<text x="388.4" y="444.8" font-size="12.4" font-family='"Liberation Serif", serif' text-anchor="start" font-weight="bold" textLength="13.2" lengthAdjust="spacingAndGlyphs">wt</text>
<text x="451" y="444.6" font-size="12" font-family='"Liberation Serif", serif' text-anchor="start" font-weight="bold" font-style="italic" textLength="30.8" lengthAdjust="spacingAndGlyphs">Ank-1</text>
<text x="485.8" y="441.8" font-size="7.6" font-family='"Liberation Serif", serif' text-anchor="start" font-weight="bold" font-style="italic" textLength="21.5" lengthAdjust="spacingAndGlyphs">1674/+</text>
<text x="318.3" y="333.8" font-size="12" font-family='"Liberation Sans", sans-serif' text-anchor="middle" fill="#111" textLength="78.6" lengthAdjust="spacingAndGlyphs" transform="rotate(-90 318.3 333.8)">Parasitemia %</text>
<text x="170.2" y="496.3" font-size="14.3" font-family='"Liberation Sans", sans-serif' text-anchor="start" font-weight="bold" textLength="112.3" lengthAdjust="spacingAndGlyphs">Osmotic fragility</text>
<line x1="56.6" y1="661.3285714285714" x2="410.6" y2="661.3285714285714" stroke="#000" stroke-width="1.3"/>
<line x1="56.6" y1="636.0571428571428" x2="410.6" y2="636.0571428571428" stroke="#000" stroke-width="1.3"/>
<line x1="56.6" y1="610.7857142857143" x2="410.6" y2="610.7857142857143" stroke="#000" stroke-width="1.3"/>
<line x1="56.6" y1="585.5142857142857" x2="410.6" y2="585.5142857142857" stroke="#000" stroke-width="1.3"/>
<line x1="56.6" y1="560.2428571428571" x2="410.6" y2="560.2428571428571" stroke="#000" stroke-width="1.3"/>
<line x1="56.6" y1="534.9714285714285" x2="410.6" y2="534.9714285714285" stroke="#000" stroke-width="1.3"/>
<line x1="56.6" y1="509.7" x2="410.6" y2="509.7" stroke="#000" stroke-width="1.3"/>
<line x1="410.6" y1="509.7" x2="410.6" y2="686.6" stroke="#000" stroke-width="1.2"/>
<line x1="56.6" y1="509.09999999999997" x2="56.6" y2="687.2" stroke="#000" stroke-width="1.5"/>
<line x1="56.0" y1="686.6" x2="411.20000000000005" y2="686.6" stroke="#000" stroke-width="1.5"/>
<text x="49.6" y="690.4" font-size="10.2" font-family='"Liberation Sans", sans-serif' text-anchor="end" textLength="5.6" lengthAdjust="spacingAndGlyphs">0</text>
<text x="49.6" y="665.1285714285714" font-size="10.2" font-family='"Liberation Sans", sans-serif' text-anchor="end" textLength="11.3" lengthAdjust="spacingAndGlyphs">20</text>
<text x="49.6" y="639.8571428571428" font-size="10.2" font-family='"Liberation Sans", sans-serif' text-anchor="end" textLength="11.3" lengthAdjust="spacingAndGlyphs">40</text>
<text x="49.6" y="614.5857142857143" font-size="10.2" font-family='"Liberation Sans", sans-serif' text-anchor="end" textLength="11.3" lengthAdjust="spacingAndGlyphs">60</text>
<text x="49.6" y="589.3142857142857" font-size="10.2" font-family='"Liberation Sans", sans-serif' text-anchor="end" textLength="11.3" lengthAdjust="spacingAndGlyphs">80</text>
<text x="49.6" y="564.0428571428571" font-size="10.2" font-family='"Liberation Sans", sans-serif' text-anchor="end" textLength="17.4" lengthAdjust="spacingAndGlyphs">100</text>
<text x="49.6" y="538.7714285714285" font-size="10.2" font-family='"Liberation Sans", sans-serif' text-anchor="end" textLength="17.4" lengthAdjust="spacingAndGlyphs">120</text>
<text x="49.6" y="513.5" font-size="10.2" font-family='"Liberation Sans", sans-serif' text-anchor="end" textLength="17.4" lengthAdjust="spacingAndGlyphs">140</text>
<line x1="57.0" y1="686.6" x2="57.0" y2="689.6" stroke="#000" stroke-width="1.1"/>
<text x="57.0" y="704.2" font-size="10.2" font-family='"Liberation Sans", sans-serif' text-anchor="middle">3</text>
<line x1="107.6" y1="686.6" x2="107.6" y2="689.6" stroke="#000" stroke-width="1.1"/>
<text x="107.6" y="704.2" font-size="10.2" font-family='"Liberation Sans", sans-serif' text-anchor="middle">4</text>
<line x1="158.2" y1="686.6" x2="158.2" y2="689.6" stroke="#000" stroke-width="1.1"/>
<text x="158.2" y="704.2" font-size="10.2" font-family='"Liberation Sans", sans-serif' text-anchor="middle">5</text>
<line x1="208.8" y1="686.6" x2="208.8" y2="689.6" stroke="#000" stroke-width="1.1"/>
<text x="208.8" y="704.2" font-size="10.2" font-family='"Liberation Sans", sans-serif' text-anchor="middle">6</text>
<line x1="259.4" y1="686.6" x2="259.4" y2="689.6" stroke="#000" stroke-width="1.1"/>
<text x="259.4" y="704.2" font-size="10.2" font-family='"Liberation Sans", sans-serif' text-anchor="middle">7</text>
<line x1="310.0" y1="686.6" x2="310.0" y2="689.6" stroke="#000" stroke-width="1.1"/>
<text x="310.0" y="704.2" font-size="10.2" font-family='"Liberation Sans", sans-serif' text-anchor="middle">8</text>
<line x1="360.6" y1="686.6" x2="360.6" y2="689.6" stroke="#000" stroke-width="1.1"/>
<text x="360.6" y="704.2" font-size="10.2" font-family='"Liberation Sans", sans-serif' text-anchor="middle">9</text>
<line x1="411.2" y1="686.6" x2="411.2" y2="689.6" stroke="#000" stroke-width="1.1"/>
<text x="411.2" y="704.2" font-size="10.2" font-family='"Liberation Sans", sans-serif' text-anchor="middle">10</text>
<text x="234.9" y="719.3" font-size="10.3" font-family='"Liberation Sans", sans-serif' text-anchor="middle" font-weight="bold" textLength="44.4" lengthAdjust="spacingAndGlyphs">[Na] g/L</text>
<text x="26.2" y="592.1" font-size="10.3" font-family='"Liberation Sans", sans-serif' text-anchor="middle" font-weight="bold" textLength="65.8" lengthAdjust="spacingAndGlyphs" transform="rotate(-90 26.2 592.1)">% hemolysis</text>
<line x1="57.0" y1="551.8" x2="57.0" y2="579.7" stroke="#000" stroke-width="1.1"/>
<line x1="54.2" y1="551.8" x2="59.8" y2="551.8" stroke="#000" stroke-width="1.3"/>
<line x1="54.2" y1="579.7" x2="59.8" y2="579.7" stroke="#000" stroke-width="1.3"/>
<line x1="82.3" y1="543" x2="82.3" y2="584.7" stroke="#000" stroke-width="1.1"/>
<line x1="79.5" y1="543" x2="85.1" y2="543" stroke="#000" stroke-width="1.3"/>
<line x1="79.5" y1="584.7" x2="85.1" y2="584.7" stroke="#000" stroke-width="1.3"/>
<line x1="107.6" y1="535.4" x2="107.6" y2="588.6" stroke="#000" stroke-width="1.1"/>
<line x1="104.8" y1="535.4" x2="110.39999999999999" y2="535.4" stroke="#000" stroke-width="1.3"/>
<line x1="104.8" y1="588.6" x2="110.39999999999999" y2="588.6" stroke="#000" stroke-width="1.3"/>
<line x1="104.8" y1="573.3" x2="110.39999999999999" y2="573.3" stroke="#000" stroke-width="1.3"/>
<line x1="104.8" y1="573.3" x2="110.39999999999999" y2="573.3" stroke="#000" stroke-width="1.3"/>
<line x1="158.2" y1="546.3" x2="158.2" y2="587" stroke="#000" stroke-width="1.1"/>
<line x1="155.39999999999998" y1="546.3" x2="161.0" y2="546.3" stroke="#000" stroke-width="1.3"/>
<line x1="155.39999999999998" y1="587" x2="161.0" y2="587" stroke="#000" stroke-width="1.3"/>
<line x1="158.2" y1="646.7" x2="158.2" y2="663" stroke="#000" stroke-width="1.1"/>
<line x1="155.39999999999998" y1="646.7" x2="161.0" y2="646.7" stroke="#000" stroke-width="1.3"/>
<line x1="155.39999999999998" y1="663" x2="161.0" y2="663" stroke="#000" stroke-width="1.3"/>
<line x1="183.5" y1="544.5" x2="183.5" y2="595.5" stroke="#000" stroke-width="1.1"/>
<line x1="180.7" y1="544.5" x2="186.3" y2="544.5" stroke="#000" stroke-width="1.3"/>
<line x1="180.7" y1="595.5" x2="186.3" y2="595.5" stroke="#000" stroke-width="1.3"/>
<line x1="183.5" y1="605.5" x2="183.5" y2="630.8" stroke="#000" stroke-width="1.1"/>
<line x1="180.7" y1="605.5" x2="186.3" y2="605.5" stroke="#000" stroke-width="1.3"/>
<line x1="180.7" y1="630.8" x2="186.3" y2="630.8" stroke="#000" stroke-width="1.3"/>
<line x1="208.8" y1="533.6" x2="208.8" y2="613.5" stroke="#000" stroke-width="1.1"/>
<line x1="206.0" y1="533.6" x2="211.60000000000002" y2="533.6" stroke="#000" stroke-width="1.3"/>
<line x1="206.0" y1="613.5" x2="211.60000000000002" y2="613.5" stroke="#000" stroke-width="1.3"/>
<line x1="208.8" y1="649.5" x2="208.8" y2="673.8" stroke="#000" stroke-width="1.1"/>
<line x1="206.0" y1="649.5" x2="211.60000000000002" y2="649.5" stroke="#000" stroke-width="1.3"/>
<line x1="206.0" y1="673.8" x2="211.60000000000002" y2="673.8" stroke="#000" stroke-width="1.3"/>
<line x1="234.1" y1="552.4" x2="234.1" y2="619.6" stroke="#000" stroke-width="1.1"/>
<line x1="231.29999999999998" y1="552.4" x2="236.9" y2="552.4" stroke="#000" stroke-width="1.3"/>
<line x1="231.29999999999998" y1="619.6" x2="236.9" y2="619.6" stroke="#000" stroke-width="1.3"/>
<line x1="234.1" y1="676" x2="234.1" y2="681" stroke="#000" stroke-width="1.1"/>
<line x1="231.29999999999998" y1="676" x2="236.9" y2="676" stroke="#000" stroke-width="1.3"/>
<line x1="231.29999999999998" y1="681" x2="236.9" y2="681" stroke="#000" stroke-width="1.3"/>
<line x1="284.70000000000005" y1="613.8" x2="284.70000000000005" y2="649.2" stroke="#000" stroke-width="1.1"/>
<line x1="281.90000000000003" y1="613.8" x2="287.50000000000006" y2="613.8" stroke="#000" stroke-width="1.3"/>
<line x1="281.90000000000003" y1="649.2" x2="287.50000000000006" y2="649.2" stroke="#000" stroke-width="1.3"/>
<line x1="284.70000000000005" y1="676" x2="284.70000000000005" y2="686.4" stroke="#000" stroke-width="1.1"/>
<line x1="281.90000000000003" y1="676" x2="287.50000000000006" y2="676" stroke="#000" stroke-width="1.3"/>
<line x1="281.90000000000003" y1="686.4" x2="287.50000000000006" y2="686.4" stroke="#000" stroke-width="1.3"/>
<line x1="360.6" y1="647.3" x2="360.6" y2="686.4" stroke="#000" stroke-width="1.1"/>
<line x1="357.8" y1="647.3" x2="363.40000000000003" y2="647.3" stroke="#000" stroke-width="1.3"/>
<line x1="357.8" y1="686.4" x2="363.40000000000003" y2="686.4" stroke="#000" stroke-width="1.3"/>
<line x1="360.6" y1="671.5" x2="360.6" y2="688.6" stroke="#000" stroke-width="1.1"/>
<line x1="357.8" y1="671.5" x2="363.40000000000003" y2="671.5" stroke="#000" stroke-width="1.3"/>
<line x1="357.8" y1="688.6" x2="363.40000000000003" y2="688.6" stroke="#000" stroke-width="1.3"/>
<path d="M57.00 561.51 C61.22 561.51 73.87 560.56 82.30 561.51 C90.73 562.45 94.95 551.61 107.60 567.19 C120.25 582.78 145.55 636.58 158.20 655.01 C170.85 673.44 175.07 673.08 183.50 677.75 C191.93 682.43 200.37 681.80 208.80 683.06 C217.23 684.33 221.45 685.59 234.10 685.34 C246.75 685.08 263.62 682.07 284.70 681.55 C305.78 681.02 347.95 682.07 360.60 682.18" stroke="#000" stroke-width="1.9" fill="none"/>
<path d="M57.00 563.40 C59.95 563.33 76.40 562.99 82.30 562.77 C88.20 562.55 98.74 560.84 107.60 561.51 C116.45 562.17 149.34 561.82 158.20 568.46 C167.05 575.09 177.60 607.53 183.50 618.37 C189.40 629.20 202.90 654.40 208.80 661.33 C214.70 668.26 225.25 675.54 234.10 677.75 C242.95 679.97 269.94 679.91 284.70 680.28 C299.46 680.65 351.75 680.84 360.60 680.91" stroke="#000" stroke-width="1.9" fill="none" stroke-dasharray="11 6"/>
<path d="M57.00 565.30 C59.53 564.16 77.24 554.38 82.30 553.92 C87.36 553.47 100.01 559.42 107.60 560.75 C115.19 562.08 150.61 566.30 158.20 567.19 C165.79 568.09 178.44 569.09 183.50 569.72 C188.56 570.35 203.74 571.87 208.80 573.51 C213.86 575.15 226.51 580.33 234.10 586.15 C241.69 591.96 272.05 623.74 284.70 631.63 C297.35 639.53 353.01 661.77 360.60 665.12" stroke="#000" stroke-width="1.9" fill="none" stroke-dasharray="5 5.5"/>
<circle cx="57.00" cy="561.51" r="3.7" fill="#000"/>
<circle cx="82.30" cy="561.51" r="3.7" fill="#000"/>
<circle cx="107.60" cy="567.19" r="3.7" fill="#000"/>
<circle cx="158.20" cy="655.01" r="3.7" fill="#000"/>
<circle cx="183.50" cy="677.75" r="3.7" fill="#000"/>
<circle cx="208.80" cy="683.06" r="3.7" fill="#000"/>
<circle cx="234.10" cy="685.34" r="3.7" fill="#000"/>
<circle cx="284.70" cy="681.55" r="3.7" fill="#000"/>
<circle cx="360.60" cy="682.18" r="3.7" fill="#000"/>
<rect x="54.20" y="560.60" width="5.6" height="5.6" fill="#000"/>
<rect x="79.50" y="559.97" width="5.6" height="5.6" fill="#000"/>
<rect x="104.80" y="558.71" width="5.6" height="5.6" fill="#000"/>
<rect x="155.40" y="565.66" width="5.6" height="5.6" fill="#000"/>
<rect x="180.70" y="615.57" width="5.6" height="5.6" fill="#000"/>
<rect x="206.00" y="658.53" width="5.6" height="5.6" fill="#000"/>
<rect x="231.30" y="674.96" width="5.6" height="5.6" fill="#000"/>
<rect x="281.90" y="677.48" width="5.6" height="5.6" fill="#000"/>
<rect x="357.80" y="678.11" width="5.6" height="5.6" fill="#000"/>
<path d="M57.00 561.30 L61.00 568.20 L53.00 568.20 Z" fill="#000"/>
<path d="M82.30 549.92 L86.30 556.82 L78.30 556.82 Z" fill="#000"/>
<path d="M107.60 556.75 L111.60 563.65 L103.60 563.65 Z" fill="#000"/>
<path d="M158.20 563.19 L162.20 570.09 L154.20 570.09 Z" fill="#000"/>
<path d="M183.50 565.72 L187.50 572.62 L179.50 572.62 Z" fill="#000"/>
<path d="M208.80 569.51 L212.80 576.41 L204.80 576.41 Z" fill="#000"/>
<path d="M234.10 582.15 L238.10 589.05 L230.10 589.05 Z" fill="#000"/>
<path d="M284.70 627.63 L288.70 634.53 L280.70 634.53 Z" fill="#000"/>
<path d="M360.60 661.12 L364.60 668.02 L356.60 668.02 Z" fill="#000"/>
<rect x="288.8" y="510.4" width="121.8" height="49.8" fill="#fff" stroke="#000" stroke-width="1.3"/>
<line x1="303.1" y1="521.6" x2="338.8" y2="521.6" stroke="#000" stroke-width="1.9"/>
<circle cx="322.2" cy="521.6" r="3.6" fill="#000"/>
<text x="343.5" y="524.8" font-size="9.6" font-family='"Liberation Sans", sans-serif' text-anchor="start" textLength="8.2" lengthAdjust="spacingAndGlyphs">wt</text>
<line x1="303.1" y1="538.2" x2="317.5" y2="538.2" stroke="#000" stroke-width="1.9"/>
<line x1="325" y1="538.2" x2="338" y2="538.2" stroke="#000" stroke-width="1.9"/>
<rect x="318.9" y="535.6" width="5.2" height="5.2" fill="#000"/>
<text x="343.5" y="541.3" font-size="9.6" font-family='"Liberation Sans", sans-serif' text-anchor="start" textLength="23.7" lengthAdjust="spacingAndGlyphs">Ank-1</text>
<text x="370.7" y="539.4" font-size="5.6" font-family='"Liberation Sans", sans-serif' text-anchor="start" textLength="14" lengthAdjust="spacingAndGlyphs">1674/+</text>
<line x1="303.1" y1="552.7" x2="306.3" y2="552.7" stroke="#000" stroke-width="1.9"/>
<line x1="315.3" y1="552.7" x2="318.5" y2="552.7" stroke="#000" stroke-width="1.9"/>
<line x1="326.8" y1="552.7" x2="330.1" y2="552.7" stroke="#000" stroke-width="1.9"/>
<rect x="338.2" y="551.8" width="1.6" height="1.8" fill="#000"/>
<path d="M322.2 549.4 L325.9 555.3 L318.5 555.3 Z" fill="#000"/>
<text x="343.5" y="556.3" font-size="9.6" font-family='"Liberation Sans", sans-serif' text-anchor="start" textLength="23.7" lengthAdjust="spacingAndGlyphs">Ank-1</text>
<text x="370.7" y="553.8" font-size="5.6" font-family='"Liberation Sans", sans-serif' text-anchor="start" textLength="25.8" lengthAdjust="spacingAndGlyphs">1674/1674</text>
</svg>
</body></html>
